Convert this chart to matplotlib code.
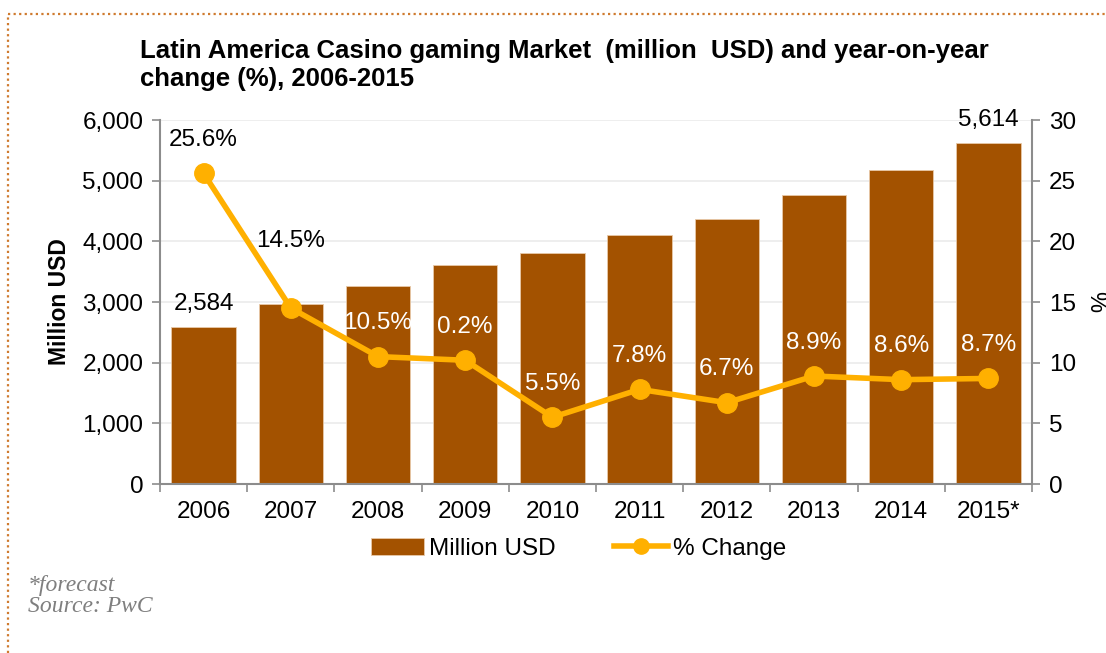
import matplotlib
matplotlib.use("Agg")
import matplotlib.pyplot as plt
import numpy as np
from matplotlib.lines import Line2D

plt.rcParams['font.family'] = ['Liberation Sans', 'DejaVu Sans']

years = ["2006", "2007", "2008", "2009", "2010", "2011", "2012", "2013", "2014", "2015*"]
revenue = [2584, 2959, 3269, 3603, 3801, 4097, 4372, 4761, 5170, 5614]
pct_change = [25.6, 14.5, 10.5, 10.2, 5.5, 7.8, 6.7, 8.9, 8.6, 8.7]
pct_labels = ["25.6%", "14.5%", "10.5%", "0.2%", "5.5%", "7.8%", "6.7%", "8.9%", "8.6%", "8.7%"]
revenue_labels = {0: "2,584", 9: "5,614"}

bar_color = "#A35200"
line_color = "#FFB000"
axis_gray = "#8C8C8C"
fs = 17.5

fig = plt.figure(figsize=(11.06, 6.53), dpi=100)
ax = fig.add_axes([0.1447, 0.2588, 0.7884, 0.5574])
ax2 = ax.twinx()

x = np.arange(len(years))
bars = ax.bar(x, revenue, width=0.74, color=bar_color, edgecolor="#E8C9A8",
              linewidth=0.6, label="Million USD", zorder=2)
ax.set_xlim(-0.5, len(years) - 0.5)
ax.set_ylim(0, 6000)
ax.set_yticks(range(0, 6001, 1000))
ax.set_yticklabels([f"{v:,}" for v in range(0, 6001, 1000)])
ax.yaxis.grid(True, color="#EBEBEB", linewidth=1.2, zorder=0)
ax.set_axisbelow(True)

# category labels centred, tick marks on the boundaries
ax.set_xticks(x)
ax.set_xticklabels(years)
ax.set_xticks(np.arange(-0.5, len(years)), minor=True)
ax.tick_params(axis="x", which="major", length=0, pad=12, labelsize=fs)
ax.tick_params(axis="x", which="minor", length=6, color=axis_gray, width=1.2)
ax.tick_params(axis="y", length=6, color=axis_gray, width=1.2, labelsize=fs, pad=6)

ax.spines["top"].set_visible(False)
ax2.spines["top"].set_visible(False)
ax.spines["right"].set_visible(False)
for sp in [ax.spines["left"], ax.spines["bottom"], ax2.spines["right"]]:
    sp.set_color(axis_gray)
    sp.set_linewidth(1.5)
ax2.spines["left"].set_visible(False)
ax2.spines["bottom"].set_visible(False)

ax.set_ylabel("Million USD", fontsize=16.5, fontweight="bold", labelpad=8)

ax2.plot(x, pct_change, color=line_color, linewidth=4, marker="o",
         markersize=14, label="% Change", zorder=3)
ax2.set_ylim(0, 30)
ax2.set_yticks(range(0, 31, 5))
ax2.tick_params(axis="y", length=6, color=axis_gray, width=1.2, labelsize=fs, pad=6)
ax2.set_ylabel("%", fontsize=17, rotation=-90, labelpad=14, va="center")

# value labels for bars
for i, txt in revenue_labels.items():
    ax.annotate(txt, (x[i], revenue[i]), xytext=(0, 17), textcoords="offset points",
                ha="center", va="center", fontsize=fs, color="black")

# percentage labels: dark above white background, white over the bars
for i, (v, txt) in enumerate(zip(pct_change, pct_labels)):
    offset = 48 if i == 1 else 24
    color = "black" if i in (0, 1) else "white"
    ax2.annotate(txt, (x[i], v), xytext=(0, offset), textcoords="offset points",
                 ha="center", va="center", fontsize=fs, color=color, zorder=4)

handles = [bars, Line2D([0], [0], color=line_color, linewidth=4, marker="o", markersize=11)]
fig.legend(handles, ["Million USD", "% Change"], loc="center", bbox_to_anchor=(0.523, 0.16),
           ncol=2, frameon=False, fontsize=fs, handlelength=2.2, handletextpad=0.2,
           columnspacing=2.4)

fig.text(0.1266, 0.9, "Latin America Casino gaming Market  (million  USD) and year-on-year\nchange (%), 2006-2015",
         fontsize=18.5, fontweight="bold", ha="left", va="center", linespacing=1.2)

fig.text(0.025, 0.087, "*forecast\nSource: PwC", fontsize=17, style="italic",
         family="Liberation Serif", color="#7F7F7F", ha="left", va="center", linespacing=1.0)

# dotted frame along top and left edges
border = dict(color="#CF7A2E", linewidth=1.6, linestyle=(0, (1, 1.5)))
fig.add_artist(Line2D([0.0075, 1.0], [0.979, 0.979], transform=fig.transFigure, **border))
fig.add_artist(Line2D([0.0075, 0.0075], [0.0, 0.979], transform=fig.transFigure, **border))

fig.savefig("out.png", dpi=100)
